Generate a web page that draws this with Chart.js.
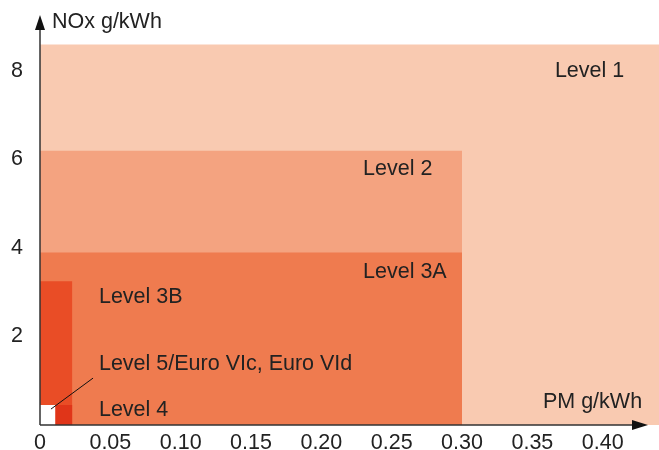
<!DOCTYPE html>
<html>
<head>
<meta charset="utf-8">
<script src="https://cdn.jsdelivr.net/npm/chart.js@4.4.0/dist/chart.umd.min.js"></script>
<style>
  body { margin: 0; background: #fff; }
  #wrap { width: 659px; height: 450px; position: relative; }
</style>
</head>
<body>
<div id="wrap"><canvas id="myChart"></canvas></div>
<script>
const levels = ['Level 1', 'Level 2', 'Level 3A', 'Level 3B', 'Level 4', 'Level 5'];
const pmLimits = [0.44, 0.30, 0.30, 0.023, 0.023, 0.011];
const noxLimits = [8.6, 6.2, 3.9, 3.25, 0.45, 0.45];
const levelColors = ['#f9cab1', '#f4a380', '#ef7b4f', '#e94d26', '#e03519', '#ffffff'];

const xTicks = [0, 0.05, 0.10, 0.15, 0.20, 0.25, 0.30, 0.35, 0.40];
const xTickLabels = ['0', '0.05', '0.10', '0.15', '0.20', '0.25', '0.30', '0.35', '0.40'];
const yTicks = [2, 4, 6, 8];
const yTickLabels = ['2', '4', '6', '8'];

const noteTexts = ['Level 1', 'Level 2', 'Level 3A', 'Level 3B', 'Level 5/Euro VIc, Euro VId', 'Level 4', 'PM g/kWh', 'NOx g/kWh'];

// where the notes sit, in data units (left edge, baseline)
const notePlaces = [
  [0.366, 7.86], [0.2296, 5.65], [0.2296, 3.32], [0.0419, 2.76],
  [0.0419, 1.24], [0.0419, 0.20], [0.3575, 0.38], [0.0085, 8.97]
];
const leader = [[0.0078, 0.36], [0.0377, 1.06]];

const FONT = '"Liberation Sans", Arial, sans-serif';
const FSIZE = 21.5;

const ctx = document.querySelector('#myChart');

const datasets = levels.map((name, i) => ({
  label: name,
  data: [{ x: 0, y: noxLimits[i] }, { x: pmLimits[i], y: noxLimits[i] }],
  fill: 'origin',
  backgroundColor: levelColors[i],
  borderWidth: 0,
  pointRadius: 0,
  order: levels.length - i
}));

const decorations = {
  id: 'decorations',
  afterDatasetsDraw(chart) {
    const { ctx, chartArea, scales: { x, y } } = chart;
    const x0 = x.getPixelForValue(0);
    const y0 = y.getPixelForValue(0);
    const xTip = chartArea.right - 11;
    const yTip = chartArea.top - 3;
    ctx.save();
    ctx.strokeStyle = '#333';
    ctx.fillStyle = '#111';
    ctx.lineWidth = 1.5;
    ctx.beginPath();
    ctx.moveTo(x0, y0);
    ctx.lineTo(xTip - 10, y0);
    ctx.moveTo(x0, y0);
    ctx.lineTo(x0, yTip + 10);
    ctx.stroke();

    ctx.beginPath();
    ctx.moveTo(xTip, y0);
    ctx.lineTo(xTip - 16, y0 - 5);
    ctx.lineTo(xTip - 16, y0 + 5);
    ctx.closePath();
    ctx.fill();
    ctx.beginPath();
    ctx.moveTo(x0, yTip);
    ctx.lineTo(x0 - 5, yTip + 15);
    ctx.lineTo(x0 + 5, yTip + 15);
    ctx.closePath();
    ctx.fill();

    // leader line to the Level 5 box
    ctx.strokeStyle = '#111';
    ctx.lineWidth = 1;
    ctx.beginPath();
    ctx.moveTo(x.getPixelForValue(leader[0][0]), y.getPixelForValue(leader[0][1]));
    ctx.lineTo(x.getPixelForValue(leader[1][0]), y.getPixelForValue(leader[1][1]));
    ctx.stroke();

    ctx.fillStyle = '#222';
    ctx.font = FSIZE + 'px ' + FONT;
    ctx.textAlign = 'left';
    ctx.textBaseline = 'alphabetic';
    noteTexts.forEach((t, i) => {
      ctx.fillText(t, x.getPixelForValue(notePlaces[i][0]), y.getPixelForValue(notePlaces[i][1]));
    });
    ctx.restore();
  }
};

const config = {
  type: 'line',
  data: { datasets: datasets },
  options: {
    responsive: true,
    maintainAspectRatio: false,
    animation: false,
    devicePixelRatio: 1,
    layout: { padding: { top: 18, left: 0, right: 0, bottom: 0 } },
    plugins: { legend: { display: false }, tooltip: { enabled: false } },
    scales: {
      x: {
        type: 'linear',
        min: 0,
        max: 0.44,
        grid: { display: false, drawTicks: false },
        border: { display: false },
        afterBuildTicks: (scale) => { scale.ticks = xTicks.map(v => ({ value: v })); },
        afterFit: (scale) => {
          scale.height = 25;
          scale.paddingLeft = 0;
          scale.paddingRight = 0;
        },
        ticks: {
          autoSkip: false,
          maxRotation: 0,
          padding: 5,
          color: '#222',
          font: { family: FONT, size: FSIZE },
          callback: (v, i) => xTickLabels[i]
        }
      },
      y: {
        type: 'linear',
        min: 0,
        max: 9.2,
        grid: { display: false, drawTicks: false },
        border: { display: false },
        afterBuildTicks: (scale) => { scale.ticks = yTicks.map(v => ({ value: v })); },
        afterFit: (scale) => {
          scale.width = 40;
          scale.paddingTop = 0;
          scale.paddingBottom = 0;
        },
        ticks: {
          padding: 17,
          color: '#222',
          font: { family: FONT, size: FSIZE },
          callback: (v, i) => yTickLabels[i]
        }
      }
    }
  },
  plugins: [decorations]
};

let chart = new Chart(ctx, config);
</script>
</body>
</html>
